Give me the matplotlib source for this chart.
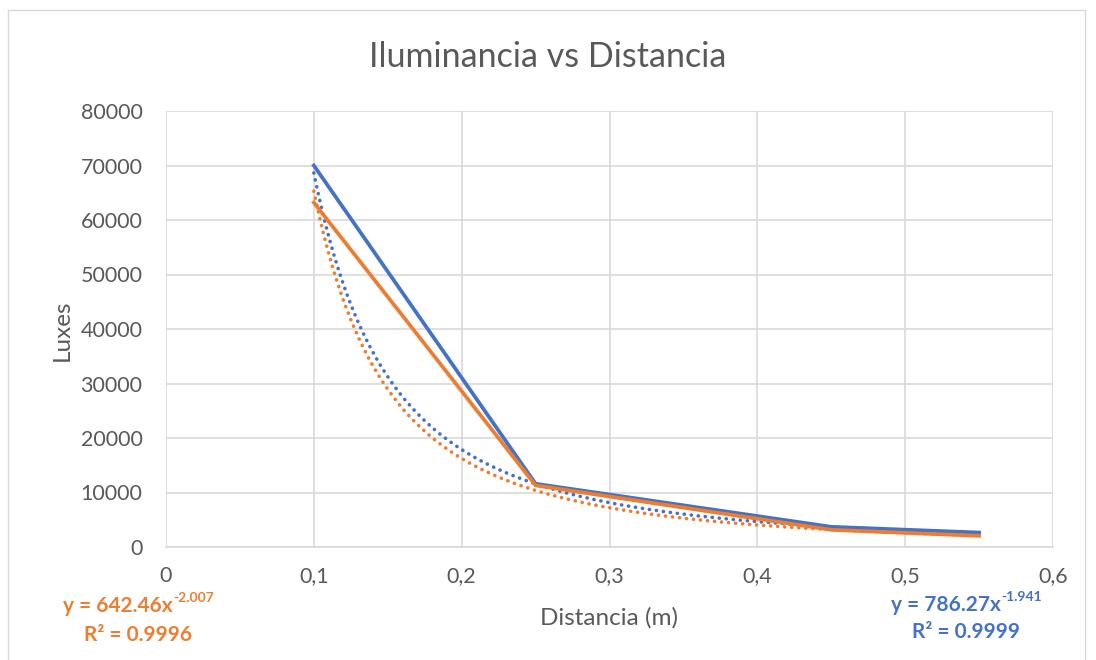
import matplotlib
matplotlib.use("Agg")
import matplotlib.pyplot as plt
from matplotlib.patches import Rectangle
import numpy as np

plt.rcParams['font.family'] = ['Lato', 'DejaVu Sans']

distancia = [0.10, 0.25, 0.45, 0.55]
luxes_azul = [70000, 11600, 3700, 2650]
luxes_naranja = [63200, 11300, 3150, 2050]

# power trendline coefficients as shown on chart
coef_azul = (786.27, -1.941)
coef_naranja = (642.46, -2.007)
r2_azul = "0.9999"
r2_naranja = "0.9996"

x_ticks = [0, 0.1, 0.2, 0.3, 0.4, 0.5, 0.6]
x_ticklabels = ["0", "0,1", "0,2", "0,3", "0,4", "0,5", "0,6"]
y_ticks = [0, 10000, 20000, 30000, 40000, 50000, 60000, 70000, 80000]

AZUL = "#4472C4"
NARANJA = "#ED7D31"
TXT = "#595959"

W, H = 1096, 660
fig = plt.figure(figsize=(W / 100, H / 100), dpi=100)
ax = fig.add_axes([166 / W, 1 - 547 / H, (1053 - 166) / W, (547 - 111) / H])

fig.patches.append(Rectangle((8 / W, -0.05), (1085 - 8) / W, 1.05 - 10 / H,
                             transform=fig.transFigure, fill=False,
                             edgecolor="#D9D9D9", linewidth=1))

xs = np.linspace(distancia[0], distancia[-1], 400)
dot = (0, (0.05, 1.9))
ax.plot(xs, coef_azul[0] * xs ** coef_azul[1], color=AZUL, linewidth=2.6,
        linestyle=dot, dash_capstyle='round', zorder=3)
ax.plot(xs, coef_naranja[0] * xs ** coef_naranja[1], color=NARANJA, linewidth=2.6,
        linestyle=dot, dash_capstyle='round', zorder=3)
ax.plot(distancia, luxes_azul, color=AZUL, linewidth=2.7, zorder=4)
ax.plot(distancia, luxes_naranja, color=NARANJA, linewidth=2.7, zorder=5)

ax.set_xlim(0, 0.6)
ax.set_ylim(0, 80000)
ax.set_xticks(x_ticks)
ax.set_xticklabels(x_ticklabels)
ax.set_yticks(y_ticks)
ax.set_yticklabels([str(v) for v in y_ticks])
ax.grid(True, color="#D9D9D9", linewidth=1.2)
ax.set_axisbelow(True)
for s in ["top", "right", "left"]:
    ax.spines[s].set_visible(False)
ax.spines["bottom"].set_color("#D9D9D9")
ax.spines["bottom"].set_linewidth(1.2)
ax.tick_params(axis='both', length=0, labelsize=15.5, colors=TXT)
ax.tick_params(axis='x', pad=14)
ax.tick_params(axis='y', pad=17)

fig.text(0.5, 1 - 57 / H, "Iluminancia vs Distancia", ha='center', va='center',
         fontsize=24.5, color=TXT)
fig.text(62 / W, 1 - 330 / H, "Luxes", rotation=90, ha='center', va='center',
         fontsize=17.5, color=TXT)
fig.text(609 / W, 1 - 618 / H, "Distancia (m)", ha='center', va='center',
         fontsize=17.5, color=TXT)

renderer = fig.canvas.get_renderer()

def eq_text(cx, cy1, cy2, coef, r2, color):
    base = fig.text(0, 1 - cy1 / H, "y = %.2fx" % coef[0], ha='left', va='center',
                    fontsize=15, fontweight='bold', color=color)
    sup = fig.text(0, 1 - (cy1 - 8) / H, "%.3f" % coef[1], ha='left', va='center',
                   fontsize=10, fontweight='bold', color=color)
    wb = base.get_window_extent(renderer).width
    ws = sup.get_window_extent(renderer).width
    x0 = cx - (wb + ws) / 2
    base.set_x(x0 / W)
    sup.set_x((x0 + wb + 1) / W)
    fig.text(cx / W, 1 - cy2 / H, "R² = " + r2,
             ha='center', va='center', fontsize=15, fontweight='bold', color=color)

eq_text(138, 606, 635, coef_naranja, r2_naranja, NARANJA)
eq_text(966, 605, 632, coef_azul, r2_azul, AZUL)

fig.savefig("out.png", dpi=100)
